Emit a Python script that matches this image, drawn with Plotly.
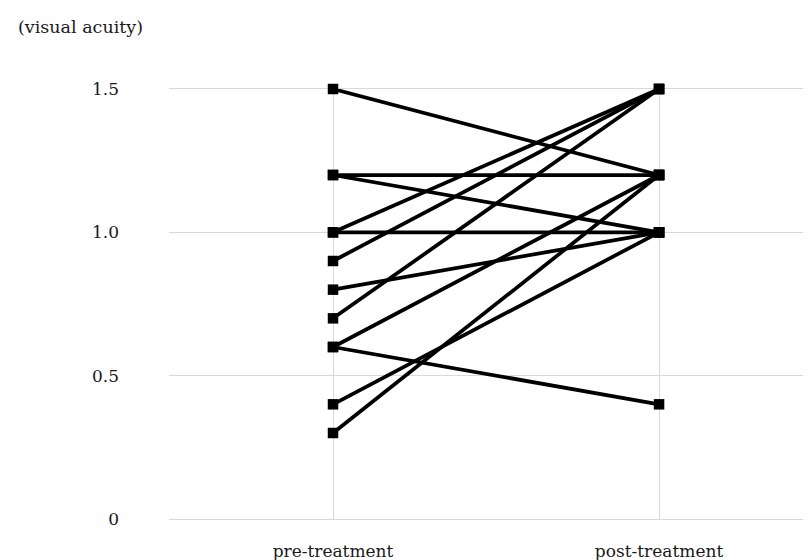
import plotly.graph_objects as go

categories = ["pre-treatment", "post-treatment"]
pre = [1.5, 1.2, 1.2, 1.0, 1.0, 0.9, 0.8, 0.7, 0.6, 0.6, 0.4, 0.3]
post = [1.2, 1.2, 1.0, 1.0, 1.5, 1.5, 1.0, 1.5, 1.2, 0.4, 1.0, 1.2]
y_ticks = [0, 0.5, 1.0, 1.5]
y_tick_labels = ["0", "0.5", "1.0", "1.5"]
y_title = "(visual acuity)"

FONT = "DejaVu Serif"
TXT = "#1a1a1a"
GRID = "#d9d9d9"

fig = go.Figure()
xpos = list(range(len(categories)))
for a, b in zip(pre, post):
    fig.add_trace(go.Scatter(
        x=xpos, y=[a, b], mode="lines+markers",
        line=dict(color="black", width=3.75),
        marker=dict(symbol="square", size=10.5, color="black"),
        cliponaxis=False, showlegend=False, hoverinfo="skip",
    ))

# page body has an 8px margin, so the figure is sized to fit the window
fig.update_layout(
    width=803, height=552,
    margin=dict(l=161, r=0, t=81, b=41),
    paper_bgcolor="white", plot_bgcolor="white",
    font=dict(family=FONT, size=17, color=TXT),
    xaxis=dict(
        range=[-0.503, 1.466], tickvals=xpos, ticktext=categories,
        showgrid=True, gridcolor=GRID, gridwidth=1,
        zeroline=False, showline=True, linecolor=GRID, linewidth=1,
        mirror=True, ticks="", layer="below traces",
        ticklabelstandoff=17, automargin=False,
    ),
    yaxis=dict(
        range=[0, 1.5], tickvals=y_ticks, ticktext=y_tick_labels,
        showgrid=True, gridcolor=GRID, gridwidth=1,
        zeroline=False, showline=False, ticks="", layer="below traces",
        ticklabelstandoff=49, automargin=False,
    ),
    annotations=[dict(
        text=y_title, xref="paper", yref="paper",
        x=(16 - 169) / 642, y=1 + (89 - 27) / 430,
        xanchor="left", yanchor="middle", showarrow=False,
        font=dict(family=FONT, size=17.5, color=TXT),
    )],
)

fig.write_html("out.html")
